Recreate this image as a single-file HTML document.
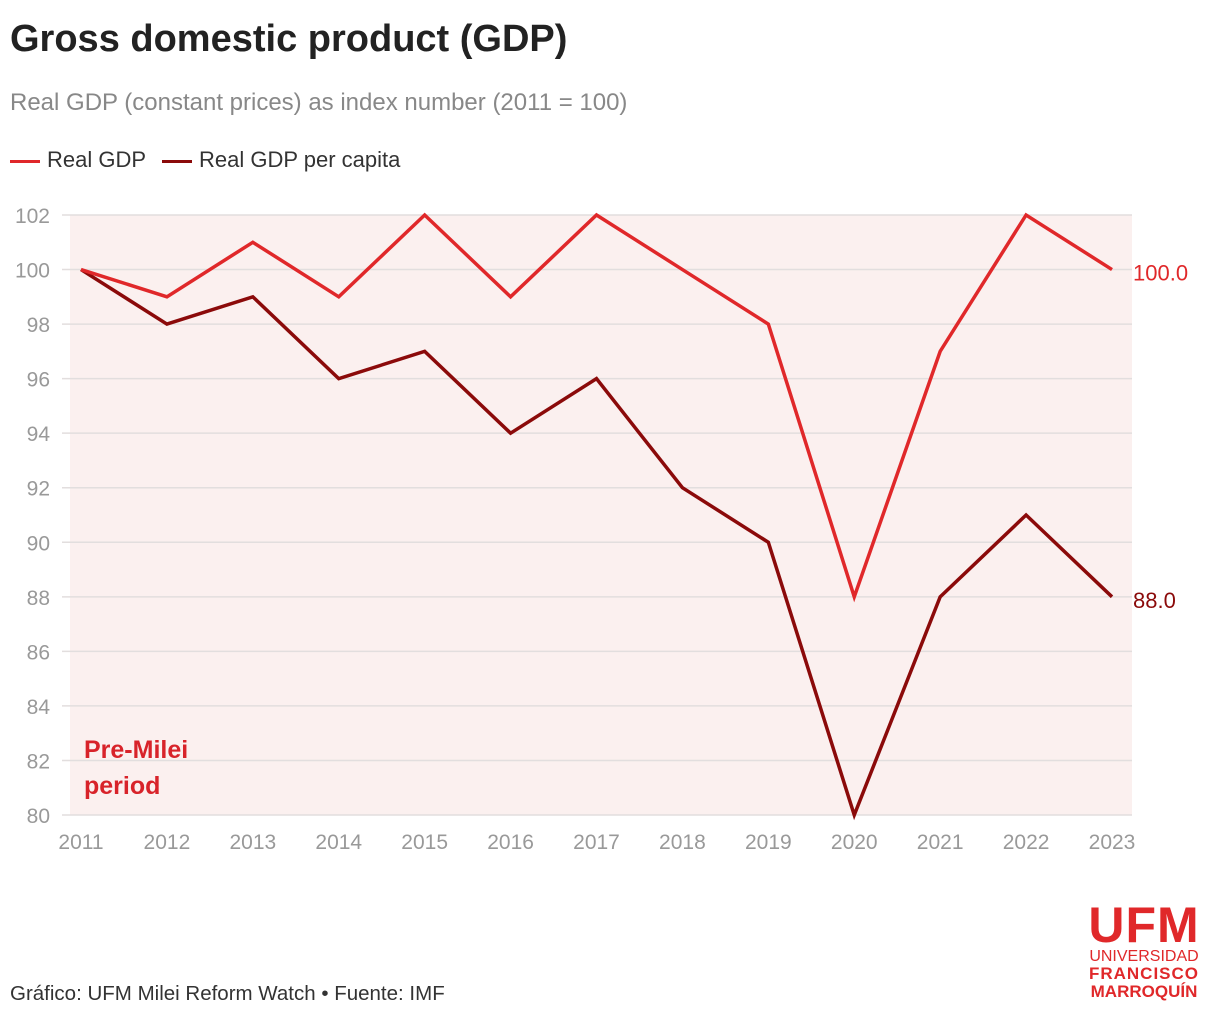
<!DOCTYPE html>
<html><head><meta charset="utf-8"><style>
body{margin:0;width:1220px;height:1018px;background:#fff;font-family:"Liberation Sans",sans-serif;overflow:hidden;position:relative}
.t{position:absolute;white-space:nowrap}
</style></head><body>
<div class="t" style="left:10px;top:18px;font-size:38px;font-weight:bold;color:#222">Gross domestic product (GDP)</div>
<div class="t" style="left:10px;top:89px;font-size:24px;color:#888">Real GDP (constant prices) as index number (2011 = 100)</div>
<div class="t" style="left:10px;top:147px;font-size:22px;color:#333"><span style="display:inline-block;width:30px;height:3px;background:#e0282a;vertical-align:middle;margin-right:7px"></span>Real GDP</div>
<div class="t" style="left:162px;top:147px;font-size:22px;color:#333"><span style="display:inline-block;width:30px;height:3px;background:#8b0a0a;vertical-align:middle;margin-right:7px"></span>Real GDP per capita</div>
<svg id="chart" width="1220" height="1018" style="position:absolute;left:0;top:0"></svg>
<div class="t" style="left:10px;top:982px;font-size:20.5px;color:#333">Gráfico: UFM Milei Reform Watch • Fuente: IMF</div>
<div style="position:absolute;left:1080px;top:902px;color:#e0282a;font-weight:bold;text-align:center;width:128px">
<div style="font-size:50px;line-height:46px;letter-spacing:1px">UFM</div>
<div style="font-size:16px;font-weight:normal;line-height:17px">UNIVERSIDAD</div>
<div style="font-size:17px;line-height:18px;letter-spacing:1px">FRANCISCO</div>
<div style="font-size:17px;line-height:18px">MARROQUÍN</div>
</div>
<script>
const years=[2011,2012,2013,2014,2015,2016,2017,2018,2019,2020,2021,2022,2023];
const gdp=[100,99,101,99,102,99,102,100,98,88,97,102,100];
const gdpPc=[100,98,99,96,97,94,96,92,90,80,88,91,88];
const yTicks=[80,82,84,86,88,90,92,94,96,98,100,102];
const NS="http://www.w3.org/2000/svg";
const svg=document.getElementById('chart');
const x=i=>81+i*(1112-81)/(years.length-1);
const y=v=>815-(v-80)*(600/22);
function mk(t,a){const e=document.createElementNS(NS,t);for(const k in a)e.setAttribute(k,a[k]);svg.appendChild(e);return e;}
const bg=mk('rect',{x:70,y:215,width:1062,height:600,fill:'#fbf0ef'});


yTicks.forEach(v=>{
 const l=mk('line',{x1:62,x2:1132,y1:y(v),y2:y(v),stroke:'#e2dede','stroke-width':1.5});
 
 
 const t=mk('text',{x:50,y:y(v)+8,'text-anchor':'end','font-size':21,fill:'#999','font-family':'Liberation Sans'});
 t.textContent=v;
 
 
});
years.forEach((yr,i)=>{
 const t=mk('text',{x:x(i),y:849,'text-anchor':'middle','font-size':21,fill:'#999','font-family':'Liberation Sans'});
 t.textContent=yr;
 
 
});
function line(d,c,name){
 const p=mk('polyline',{points:d.map((v,i)=>x(i)+','+y(v)).join(' '),fill:'none',stroke:c,'stroke-width':3.5,'stroke-linejoin':'miter'});
 
 
 const t=mk('text',{x:1133,y:y(d[d.length-1])+11,'font-size':22,fill:c,'font-family':'Liberation Sans'});
 t.textContent=d[d.length-1].toFixed(1);
 
 
}
line(gdpPc,'#8b0a0a','series-real-gdp-per-capita');
line(gdp,'#e0282a','series-real-gdp');
[['Pre-Milei',758],['period',794]].forEach(([s,yy])=>{
 const t=mk('text',{x:84,y:yy,'font-size':25,'font-weight':'bold',fill:'#d8232a','font-family':'Liberation Sans'});
 t.textContent=s;
 
 
});
</script>
</body></html>
